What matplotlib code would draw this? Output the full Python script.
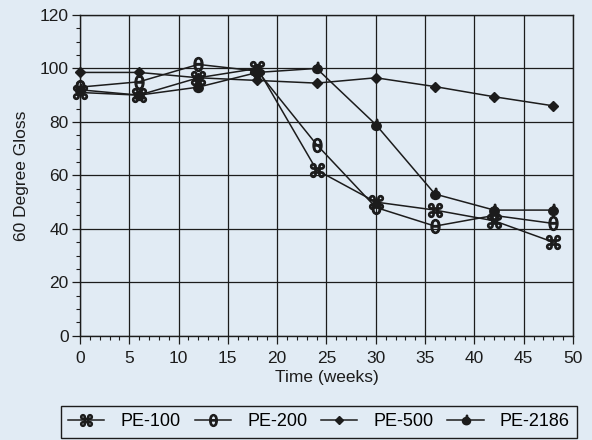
import numpy as np
import matplotlib
matplotlib.use("Agg")
import matplotlib.pyplot as plt
from matplotlib.path import Path
from matplotlib.ticker import MultipleLocator

# gloss retention readings
weeks = [0, 6, 12, 18, 24, 30, 36, 42, 48]
pe100 = [91, 90, 96.5, 100, 62, 50, 47, 43, 35]
pe200 = [93, 95, 101.5, 99, 71.5, 48, 41, 45, 42]
pe500 = [98.5, 98.5, 96.5, 95.5, 94.5, 96.5, 93.2, 89.4, 86]
pe2186 = [92, 90, 93, 98.5, 100, 79, 53, 47, 47]
labels = ["PE-100", "PE-200", "PE-500", "PE-2186"]

plt.rcParams["font.family"] = ["Liberation Sans", "DejaVu Sans"]

bg = "#e1ebf4"
ink = "#1c1c1c"

# small apple-ish marker: round body with a leaf on top
body = Path.unit_circle()
body = Path(body.vertices * [1.0, 0.9] + [0, -0.15], body.codes)
leaf = Path.unit_circle()
leaf = Path(leaf.vertices * [0.18, 0.32] + [0.12, 1.0], leaf.codes)
apple = Path.make_compound_path(body, leaf)

fig = plt.figure(figsize=(5.92, 4.40), dpi=100, facecolor=bg)
ax = fig.add_axes([0.135, 0.237, 0.833, 0.729], facecolor=bg)

kw = dict(color=ink, lw=1.1, clip_on=False, zorder=3)
ax.plot(weeks, pe100, marker="$\u2318$", ms=10, **kw)
ax.plot(weeks, pe200, marker=r"$\mathrm{\theta}$", ms=10, **kw)
ax.plot(weeks, pe500, marker="D", ms=5, **kw)
ax.plot(weeks, pe2186, marker=apple, ms=9, **kw)

ax.set_xlim(0, 50)
ax.set_ylim(0, 120)
ax.xaxis.set_major_locator(MultipleLocator(5))
ax.xaxis.set_minor_locator(MultipleLocator(1))
ax.yaxis.set_major_locator(MultipleLocator(20))
ax.yaxis.set_minor_locator(MultipleLocator(5))
ax.grid(True, which="major", color=ink, lw=0.9)
ax.tick_params(which="major", length=6, width=0.9, color=ink, labelsize=12.5,
               labelcolor=ink)
ax.tick_params(axis="x", which="major", pad=5)
ax.tick_params(axis="y", which="major", pad=2)
ax.tick_params(which="minor", length=3, width=0.8, color=ink)
for s in ax.spines.values():
    s.set_color(ink)
    s.set_linewidth(1.0)

ax.set_xlabel("Time (weeks)", fontsize=12.5, color=ink, labelpad=3)
ax.set_ylabel("60 Degree Gloss", fontsize=12.5, color=ink, labelpad=8)

fig.legend(ax.lines, labels, loc="center", ncol=4,
           bbox_to_anchor=(0.088, 0.001, 0.902, 0.080), mode="expand",
           frameon=True, fancybox=False, edgecolor=ink, facecolor=bg,
           framealpha=1, fontsize=13, handlelength=2.0, borderpad=0.4,
           handletextpad=0.9, columnspacing=1.0, markerscale=0.85)

fig.savefig("out.png", dpi=100, facecolor=bg)
